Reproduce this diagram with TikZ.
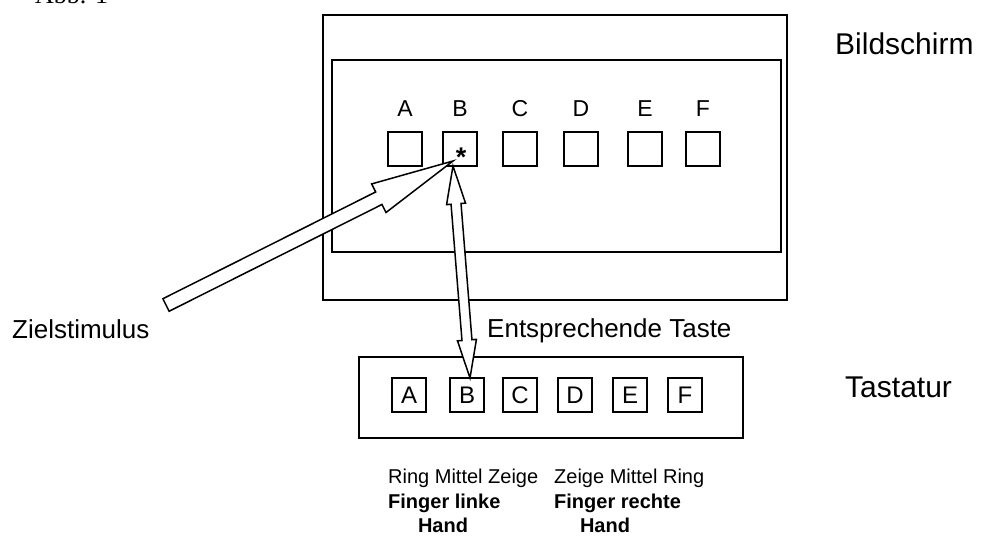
\documentclass[tikz,border=0pt]{standalone}
\usepackage{fontspec}
\setmainfont{Liberation Sans}
\newfontfamily\capfont{Liberation Serif}
\usetikzlibrary{calc,positioning}

\tikzset{
  frame/.style={draw, line width=1.8pt},
  skey/.style={draw, line width=1.6pt, minimum size=34pt, inner sep=0pt},
  kkey/.style={draw, line width=1.6pt, minimum size=34pt, inner sep=0pt, font=\fontsize{24}{28}\selectfont},
  keylabel/.style={font=\fontsize{23}{27}\selectfont, inner sep=0pt},
  bigtext/.style={font=\fontsize{30}{36}\selectfont, inner sep=0pt},
  midtext/.style={font=\fontsize{26}{31}\selectfont, inner sep=0pt},
  fingertext/.style={font=\fontsize{20}{24}\selectfont, inner sep=0pt},
  fingerbold/.style={font=\fontsize{20}{24}\selectfont\bfseries, inner sep=0pt},
  arrowline/.style={draw, line width=1.5pt, fill=white, line join=miter},
}

% outlined block arrow: from, to, half shaft, half head, head length
\newcommand{\blockarrow}[5]{%
  \path ($(#2)!#5!(#1)$) coordinate (bh);
  \draw[arrowline] ($(#1)!#3!90:(#2)$) -- ($(bh)!#3!-90:(#1)$) -- ($(bh)!#4!-90:(#1)$)
    -- (#2) -- ($(bh)!#4!90:(#1)$) -- ($(bh)!#3!90:(#1)$) -- ($(#1)!#3!-90:(#2)$) -- cycle;
}
% outlined double block arrow
\newcommand{\dblockarrow}[5]{%
  \path ($(#1)!#5!(#2)$) coordinate (ha) ($(#2)!#5!(#1)$) coordinate (hb);
  \draw[arrowline] (#1) -- ($(ha)!#4!90:(#2)$) -- ($(ha)!#3!90:(#2)$)
    -- ($(hb)!#3!-90:(#1)$) -- ($(hb)!#4!-90:(#1)$) -- (#2)
    -- ($(hb)!#4!90:(#1)$) -- ($(hb)!#3!90:(#1)$)
    -- ($(ha)!#3!-90:(#2)$) -- ($(ha)!#4!-90:(#2)$) -- cycle;
}

\begin{document}
\begin{tikzpicture}[x=1pt, y=-1pt]
  \useasboundingbox (0,0) rectangle (983,537);

  % caption, cut at the top
  \node[anchor=base west, inner sep=0pt, font=\capfont\fontsize{26}{30}\selectfont] (abb) at (35,4) {Abb. 1};

  % screen
  \draw[frame] (323,15) rectangle (787,300);
  \draw[frame] (332,60) rectangle (781,252);
  \node[bigtext, anchor=base west] (bildschirm) at (835,55) {Bildschirm};

  % stimulus boxes
  \foreach \l/\x in {A/405, B/460, C/520, D/581, E/645, F/703} {
    \node[skey] (s\l) at (\x,149) {};
    \node[keylabel, above=14pt of s\l] (ls\l) {\l};
  }
  \node[font=\fontsize{27}{30}\selectfont\bfseries, inner sep=0pt, anchor=base] (star) at (461,167) {*};

  % keyboard
  \draw[frame] (359,357) rectangle (743,438);
  \node[bigtext, anchor=base west] (tastatur) at (845,398) {Tastatur};
  \foreach \l/\x in {A/409, B/467, C/520, D/575, E/630, F/685} {
    \node[kkey] (k\l) at (\x,395) {\l};
  }

  % finger labels
  \node[fingertext, anchor=base west] (ringl) at (388,483) {Ring Mittel Zeige};
  \node[fingertext, anchor=base west] (ringr) at (554,483) {Zeige Mittel Ring};
  \node[fingerbold, anchor=base west] (fingl) at (388,508) {Finger linke};
  \node[fingerbold, anchor=base west] (fingr) at (554,508) {Finger rechte};
  \node[fingerbold, anchor=base] (handl) at (443,532) {Hand};
  \node[fingerbold, anchor=base] (handr) at (605,532) {Hand};

  % arrows
  \node[midtext, anchor=base west] (ziel) at (12,339) {Zielstimulus};
  \node[midtext, anchor=base west] (taste) at (487,338) {Entsprechende Taste};
  \coordinate (zieltail) at (166,305);
  \coordinate (zieltip) at (453,161);
  \blockarrow{zieltail}{zieltip}{7pt}{16pt}{83pt}
  \coordinate (tastetop) at (453,166);
  \coordinate (tastebot) at (470,378);
  \dblockarrow{tastetop}{tastebot}{5pt}{9.5pt}{38pt}
\end{tikzpicture}
\end{document}
